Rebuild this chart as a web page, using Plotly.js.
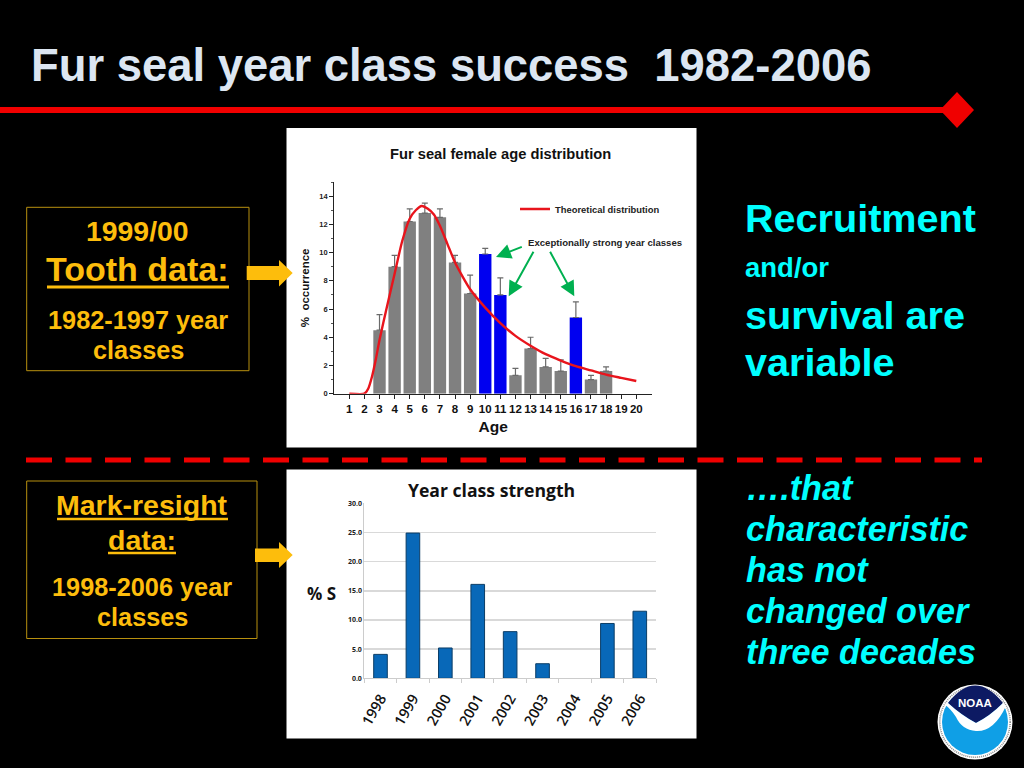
<!DOCTYPE html>
<html><head><meta charset="utf-8">
<script src="https://cdn.plot.ly/plotly-3.0.1.min.js"></script>
<style>html,body{margin:0;padding:0;background:#000;overflow:hidden}#c{width:1024px;height:768px}</style>
</head><body><div id="c"></div>
<script>
const ages=[3,4,5,6,7,8,9,10,11,12,13,14,15,16,17,18];
const occurrence=[4.5,9,12.2,12.8,12.5,9.3,7.1,9.9,7.0,1.3,3.2,1.9,1.6,5.4,1.0,1.6];
const errorUp=[1.1,0.8,0.9,0.7,0.6,0.5,1.3,0.4,1.2,0.5,0.8,0.6,0.8,1.1,0.3,0.3];
const strongAges=[10,11,16];
const curveAge=[1,2,2.25,2.5,2.75,3,3.5,4,4.5,5,5.4,5.8,6.2,6.6,7,7.5,8,8.5,9,10,11,12,13,14,15,16,17,18,19,20];
const curveVal=[0,0,0.35,1.2,2.4,3.8,6.2,8.5,10.8,12.4,13.0,13.3,13.1,12.7,11.9,10.6,9.3,8.3,7.4,6.1,5.0,4.1,3.4,2.8,2.35,1.95,1.65,1.35,1.12,0.9];
const years=['1998','1999','2000','2001','2002','2003','2004','2005','2006'];
const strength=[4.1,24.9,5.2,16.1,8.0,2.5,0,9.4,11.5];

const GOLD='#fdbd0c',CYAN='#00ffff',F='"Liberation Sans",Arial,sans-serif',C='"Open Sans",sans-serif';
const X=p=>p/1024,Y=p=>1-p/768;
const P=s=>s.replace(/(-?[\d.]+),(-?[\d.]+)/g,(m,a,b)=>X(+a)+','+Y(+b));
const rect=(x0,y0,x1,y1,fill,line,w)=>({type:'rect',xref:'paper',yref:'paper',x0:X(x0),x1:X(x1),y0:Y(y1),y1:Y(y0),fillcolor:fill,line:{color:line||fill,width:w||0},layer:'below'});
const circ=(cx,cy,r,fill,line,w,dash)=>({type:'circle',xref:'paper',yref:'paper',x0:X(cx-r),x1:X(cx+r),y0:Y(cy+r),y1:Y(cy-r),fillcolor:fill,line:{color:line||fill,width:w||0,dash:dash||'solid'},layer:'above'});
const path=(d,fill)=>({type:'path',xref:'paper',yref:'paper',path:P(d),fillcolor:fill,line:{width:0},layer:'above'});
const seg=(x0,y0,x1,y1,c,w,dash)=>({type:'line',xref:'paper',yref:'paper',x0:X(x0),x1:X(x1),y0:Y(y0),y1:Y(y1),line:{color:c,width:w,dash:dash||'solid'},layer:'above'});
const txt=(t,x,y,size,color,o)=>Object.assign({xref:'paper',yref:'paper',x:X(x),y:Y(y),text:t,showarrow:false,xanchor:'left',yanchor:'middle',font:{family:F,size:size,color:color}},o||{});
const ctr={xanchor:'center'};
const bold=s=>'<b>'+s+'</b>';
const arrow=(x0,y0,x1,y1)=>({xref:'paper',yref:'paper',x:X(x1),y:Y(y1),axref:'pixel',ayref:'pixel',ax:x0-x1,ay:y0-y1,text:'',showarrow:true,arrowcolor:'#00b050',arrowwidth:2,arrowhead:2,arrowsize:1.5});

const traces=[
 {type:'bar',x:ages,y:occurrence,width:0.82,showlegend:false,xaxis:'x',yaxis:'y',
  marker:{color:ages.map(a=>strongAges.includes(a)?'#0000f0':'#808080')},
  error_y:{type:'data',symmetric:false,array:errorUp,arrayminus:ages.map(()=>0),color:'#6a6a6a',thickness:1.2,width:3}},
 {type:'scatter',mode:'lines',x:curveAge,y:curveVal,name:'<b>Theoretical distribution</b>',xaxis:'x',yaxis:'y',cliponaxis:false,
  line:{color:'#e8141c',width:2.4,shape:'spline',smoothing:0.6}},
 {type:'bar',x:years,y:strength,width:0.42,showlegend:false,xaxis:'x2',yaxis:'y2',
  marker:{color:'#0868b8',line:{color:'#0b3d66',width:strength.map(v=>v>0?1:0)}}}
];
const layout={
 width:1024,height:768,margin:{l:0,r:0,t:0,b:0},autosize:false,
 paper_bgcolor:'#000',plot_bgcolor:'rgba(0,0,0,0)',
 title:{text:'<b>Fur seal year class success  1982-2006</b>',x:X(31),y:Y(65),xref:'paper',yref:'paper',xanchor:'left',yanchor:'middle',font:{family:F,size:45.4,color:'#dce6f2'}},
 legend:{x:X(515),y:Y(209),xanchor:'left',yanchor:'middle',bgcolor:'rgba(0,0,0,0)',font:{family:F,size:9.4,color:'#222'},itemwidth:30,traceorder:'normal'},
 xaxis:{domain:[X(334.3),X(652)],range:[0.007,21.04],tickmode:'array',tickvals:Array.from({length:20},(_,i)=>i+1),ticks:'outside',ticklen:4,tickcolor:'#222',
  showgrid:false,zeroline:false,showline:true,linecolor:'#222',linewidth:1.2,tickangle:0,
  tickfont:{family:F,size:11.5,color:'#111',weight:700},
  title:{text:'<b>Age</b>',standoff:7,font:{family:F,size:15.5,color:'#111'}}},
 yaxis:{domain:[Y(393.7),Y(182)],range:[0,15],tickmode:'array',tickvals:[0,2,4,6,8,10,12,14],ticks:'outside',ticklen:4,tickcolor:'#222',
  showgrid:false,zeroline:false,showline:true,linecolor:'#222',linewidth:1.2,
  minor:{dtick:1,ticks:'outside',ticklen:2,tickcolor:'#555'},
  tickfont:{family:F,size:7.5,color:'#222',weight:700},
  title:{text:'<b>%  occurrence</b>',standoff:7,font:{family:F,size:11.5,color:'#111'}}},
 xaxis2:{domain:[X(364.3),X(656)],type:'category',range:[-0.5,8.5],anchor:'y2',tickson:'boundaries',ticks:'outside',ticklen:4,tickcolor:'#ccc',ticklabelstandoff:5,
  showgrid:false,zeroline:false,showline:true,linecolor:'#ccc',tickangle:-60,
  tickfont:{family:C,size:14.5,color:'#111',weight:600}},
 yaxis2:{domain:[Y(678.3),Y(503.3)],range:[0,30],anchor:'x2',dtick:5,tickformat:'.1f',ticks:'outside',ticklen:0,
  showgrid:true,gridcolor:'#d9d9d9',gridwidth:1.5,zeroline:false,showline:true,linecolor:'#ccc',
  tickfont:{family:C,size:7,color:'#222',weight:700}},
 shapes:[
  rect(286.5,128,696.5,447.5,'#fff'),
  rect(286.5,469.5,696.5,738.5,'#fff'),
  seg(0,110,950,110,'#f00000',6),
  path('M 957,92 L 974,110 L 957,128 L 940,110 Z','#f00000'),
  seg(26,460,982,460,'#f00000',5,'26px,13.5px'),
  Object.assign(rect(26.7,207.3,249,370.7,'rgba(0,0,0,0)','#b8900f',1),{layer:'above'}),
  Object.assign(rect(26.7,481,257,638.5,'rgba(0,0,0,0)','#b8900f',1),{layer:'above'}),
  path('M 246.7,266 L 279,266 L 279,260 L 292.7,273 L 279,286.5 L 279,280 L 246.7,280 Z',GOLD),
  path('M 255,548.5 L 279,548.5 L 279,542 L 292.7,555 L 279,568 L 279,562 L 255,562 Z',GOLD),
  seg(47,287,229,287,GOLD,3),
  seg(57,519,228,519,GOLD,2.5),
  seg(108,553,176,553,GOLD,2.5),
  circ(975,722,37.5,'#ffffff'),
  circ(975,722,33,'#0f9fe6'),
  circ(975,722,35.2,'rgba(0,0,0,0)','#8c8c8c',1.6,'1px,1px'),
  path('M 948,703 Q 975,668 1003,703 Q 990,716 976,723 Q 961,715 948,703 Z','#0d1a63'),
  path('M 944,704 L 948,703 Q 961,715 976,723 Q 990,716 1003,703 L 1006,706 Q 994,732 976,731 Q 962,730 956,717 Q 951,709 944,704 Z','#ffffff')
 ],
 annotations:[
  txt(bold('Fur seal female age distribution'),500.5,154,14.7,'#111',ctr),
  txt(bold('Year class strength'),491.5,490,17.6,'#111',Object.assign({},ctr,{font:{family:C,size:17.6,color:'#111'}})),
  txt(bold('% S'),321,593,17,'#111',Object.assign({},ctr,{font:{family:C,size:17,color:'#111'}})),
  txt(bold('Exceptionally strong year classes'),526,242,9.6,'#222'),
  arrow(523.3,246.3,496,257),arrow(534.3,250.3,508.7,296.3),arrow(549.3,250.3,574.3,296.3),
  txt(bold('1999/00'),137.5,231,28.4,GOLD,ctr),
  txt(bold('Tooth data:'),137.5,269,34,GOLD,ctr),
  txt(bold('1982-1997 year'),138,320,25.3,GOLD,ctr),
  txt(bold('classes'),138,350,25.3,GOLD,ctr),
  txt(bold('Mark-resight'),142,505,28.5,GOLD,ctr),
  txt(bold('data:'),142,540,28.5,GOLD,ctr),
  txt(bold('1998-2006 year'),142,587,25.3,GOLD,ctr),
  txt(bold('classes'),142,617,25.3,GOLD,ctr),
  txt(bold('Recruitment'),743,218,39.6,CYAN),
  txt(bold('and/or'),743,268,27.5,CYAN),
  txt(bold('survival are'),743,315,39.6,CYAN),
  txt(bold('variable'),743,362,39.6,CYAN),
  txt('<b><i>….that</i></b>',744,488,34.2,CYAN),
  txt('<b><i>characteristic</i></b>',744,529,34.2,CYAN),
  txt('<b><i>has not</i></b>',744,570,34.2,CYAN),
  txt('<b><i>changed over</i></b>',744,611,34.2,CYAN),
  txt('<b><i>three decades</i></b>',744,652,34.2,CYAN),
  txt(bold('NOAA'),975,703,11.5,'#ffffff',ctr)
 ]
};
Plotly.newPlot('c',traces,layout,{displayModeBar:false,staticPlot:true});
</script></body></html>
